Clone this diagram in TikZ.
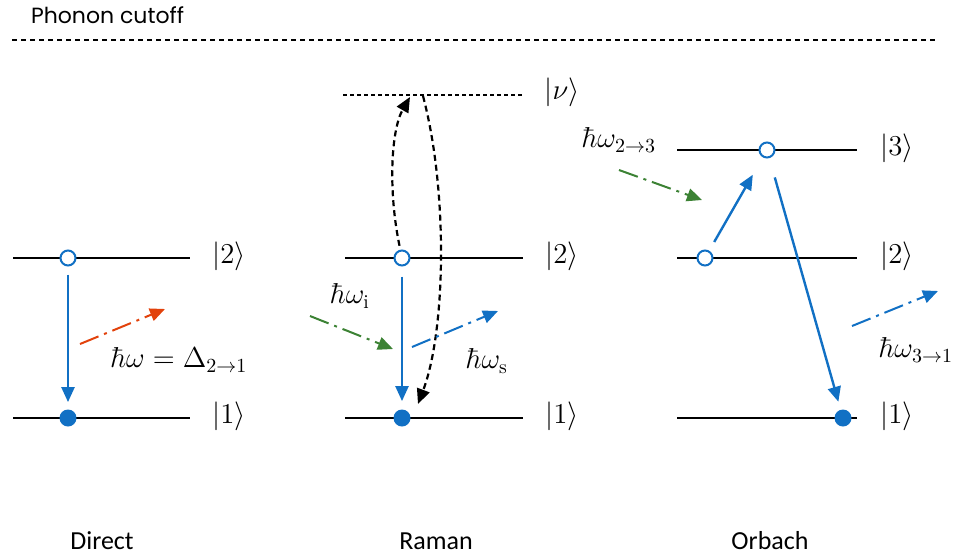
\documentclass[tikz,border=0pt]{standalone}
\usepackage{amsmath}
\usepackage{amssymb}
\usepackage{fontspec}
\newfontfamily\titrefont{Poppins}
\newfontfamily\legendefont{Carlito}
\usetikzlibrary{arrows.meta}
\definecolor{bleu}{RGB}{17,112,196}
\definecolor{vert}{RGB}{60,130,52}
\definecolor{rouge}{RGB}{226,66,12}

\begin{document}
\begin{tikzpicture}[
    x=0.5pt,
    y=-0.5pt,
    >={Triangle[length=7.5pt,width=6.5pt]},
    niveau/.style={
        line width=1pt
    },
    vide/.style={
        circle,
        draw=bleu,
        fill=white,
        line width=1pt,
        minimum size=7.5pt,
        inner sep=0pt
    },
    plein/.style={
        circle,
        fill=bleu,
        minimum size=8.5pt,
        inner sep=0pt
    },
    fleche/.style={
        ->,
        color=bleu,
        line width=1.2pt
    },
    phonon/.style={
        ->,
        line width=1pt,
        dash pattern=on 10pt off 3pt on 1.5pt off 3pt
    },
    virtuel/.style={
        ->,
        line width=1.1pt,
        dash pattern=on 3pt off 2pt
    },
    formule/.style={
        font=\fontsize{14}{16}\selectfont,
        inner sep=0.5pt
    },
    legende/.style={
        font=\legendefont\fontsize{13}{15}\selectfont
    }
]
\useasboundingbox (0,0) rectangle (960,559);

% Phonon cutoff
\node[font=\titrefont\fontsize{11}{13}\selectfont, anchor=west] (cut) at (24,15) {Phonon cutoff};
\draw[line width=1pt, dash pattern=on 2.5pt off 2pt] (12,40) -- (937,40);

% Energy levels
\draw[niveau] (13,258) -- (190,258);
\draw[niveau] (13,418) -- (190,418);
\draw[line width=0.8pt, dash pattern=on 2pt off 1.5pt] (343,95) -- (522,95);
\draw[niveau] (345,258) -- (523,258);
\draw[niveau] (345,418) -- (523,418);
\draw[niveau] (677,150) -- (857,150);
\draw[niveau] (677,258) -- (857,258);
\draw[niveau] (677,418) -- (857,418);

% Level labels
\node[formule] (d2l) at (229,256) {$|2\rangle$};
\node[formule] (d1l) at (229,416) {$|1\rangle$};
\node[formule] (rnl) at (562,92) {$|\nu\rangle$};
\node[formule] (r2l) at (562,256) {$|2\rangle$};
\node[formule] (r1l) at (562,416) {$|1\rangle$};
\node[formule] (o3l) at (897,148) {$|3\rangle$};
\node[formule] (o2l) at (897,256) {$|2\rangle$};
\node[formule] (o1l) at (897,416) {$|1\rangle$};

% Populations
\node[vide] (d2) at (68,258) {};
\node[plein] (d1) at (68,418) {};
\node[vide] (r2) at (402,258) {};
\node[plein] (r1) at (402,418) {};
\node[vide] (o2) at (705,258) {};
\node[vide] (o3) at (767,150) {};
\node[plein] (o1) at (843,418) {};

% Free ends
\coordinate (nuA) at (410,97);
\coordinate (nuB) at (423,96);
\coordinate (rArr) at (418,404);
\coordinate (dpa) at (80,344);
\coordinate (dpb) at (165,309);
\coordinate (rga) at (310,316);
\coordinate (rgb) at (393,349);
\coordinate (rba) at (412,347);
\coordinate (rbb) at (498,311);
\coordinate (oga) at (619,170);
\coordinate (ogb) at (702,200);
\coordinate (oba) at (852,326);
\coordinate (obb) at (938,291);

% Direct
\draw[fleche, shorten <=4pt, shorten >=3.5pt] (d2) -- (d1);
\draw[phonon, rouge] (dpa) -- (dpb);
\node[formule] (dlab) at (179,360) {$\hbar\omega=\Delta_{2\to1}$};

% Raman
\draw[fleche, shorten <=5pt, shorten >=4pt] (r2) -- (r1);
\draw[virtuel, shorten <=2pt] (r2) .. controls (388,190) and (391,130) .. (nuA);
\draw[virtuel] (nuB) .. controls (448,190) and (446,330) .. (rArr);
\draw[phonon, vert] (rga) -- (rgb);
\draw[phonon, bleu] (rba) -- (rbb);
\node[formule] (rilab) at (350,296) {$\hbar\omega_{\mathrm{i}}$};
\node[formule] (rslab) at (487,361) {$\hbar\omega_{\mathrm{s}}$};

% Orbach
\draw[fleche, shorten <=5pt, shorten >=10pt] (o2) -- (o3);
\draw[fleche, shorten <=10pt, shorten >=4pt] (o3) -- (o1);
\draw[phonon, vert] (oga) -- (ogb);
\draw[phonon, bleu] (oba) -- (obb);
\node[formule] (o23lab) at (619,140) {$\hbar\omega_{2\to3}$};
\node[formule] (o31lab) at (916,350) {$\hbar\omega_{3\to1}$};

% Process names
\node[legende] (direct) at (102,541) {Direct};
\node[legende] (raman) at (436,541) {Raman};
\node[legende] (orbach) at (770,541) {Orbach};

\end{tikzpicture}
\end{document}
